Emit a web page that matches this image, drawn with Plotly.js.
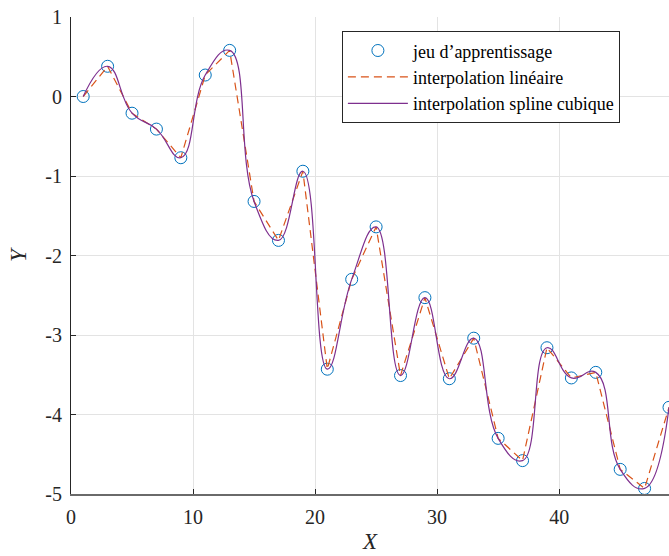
<!DOCTYPE html>
<html>
<head>
<meta charset="utf-8">
<script src="https://cdn.plot.ly/plotly-3.0.1.min.js"></script>
<style>html,body{margin:0;padding:0;background:#fff}#chart{width:669px;height:556px}</style>
</head>
<body>
<div id="chart"></div>
<script>
const xData = [1,3,5,7,9,11,13,15,17,19,21,23,25,27,29,31,33,35,37,39,41,43,45,47,49];
const yData = [0,0.38,-0.21,-0.41,-0.77,0.27,0.58,-1.32,-1.81,-0.94,-3.43,-2.30,-1.64,-3.51,-2.53,-3.55,-3.04,-4.30,-4.58,-3.16,-3.54,-3.47,-4.69,-4.93,-3.91];
const seriesNames = ["jeu d\u2019apprentissage", "interpolation lin\u00e9aire", "interpolation spline cubique"];
const xTickVals = [0,10,20,30,40];
const xTickText = ["0","10","20","30","40"];
const yTickVals = [1,0,-1,-2,-3,-4,-5];
const yTickText = ["1","0","-1","-2","-3","-4","-5"];

const font = "Liberation Serif, DejaVu Serif, serif";
const traces = [
  {x:xData, y:yData, mode:"markers", name:seriesNames[0],
   marker:{symbol:"circle-open", size:12, color:"#0072BD", line:{width:1, color:"#0072BD"}}},
  {x:xData, y:yData, mode:"lines", name:seriesNames[1],
   line:{color:"#D95319", width:1.2, dash:"8px,5px"}},
  {x:xData, y:yData, mode:"lines", name:seriesNames[2],
   line:{color:"#7E2F8E", width:1.2, shape:"spline", smoothing:1.3}}
];
const axisCommon = {showgrid:true, gridcolor:"#e3e3e3", gridwidth:1, zeroline:false,
  showline:true, linecolor:"#262626", linewidth:1, ticks:"inside", ticklen:5, tickcolor:"#262626",
  tickfont:{family:font, size:20, color:"#262626"}};
const layout = {
  width:669, height:556, margin:{l:71, r:0, t:17, b:62},
  paper_bgcolor:"#fff", plot_bgcolor:"#fff",
  xaxis:Object.assign({}, axisCommon, {range:[0,49], tickvals:xTickVals, ticktext:xTickText,
    linecolor:"#6a6a6a", linewidth:2, ticklabelstandoff:4,
    title:{text:"<i>X</i>", font:{family:font, size:23, color:"#262626"}, standoff:6}}),
  yaxis:Object.assign({}, axisCommon, {range:[-5,1], tickvals:yTickVals, ticktext:yTickText, ticklabelstandoff:4,
    title:{text:"<i>Y</i>", font:{family:font, size:23, color:"#262626"}, standoff:12}}),
  showlegend:true,
  legend:{x:0.453, y:0.97, xanchor:"left", yanchor:"top", bgcolor:"#fff", bordercolor:"#262626", borderwidth:1,
    font:{family:font, size:18, color:"#000"}, tracegroupgap:0, itemwidth:60},
};
Plotly.newPlot("chart", traces, layout, {displayModeBar:false, staticPlot:true});
</script>
</body>
</html>
